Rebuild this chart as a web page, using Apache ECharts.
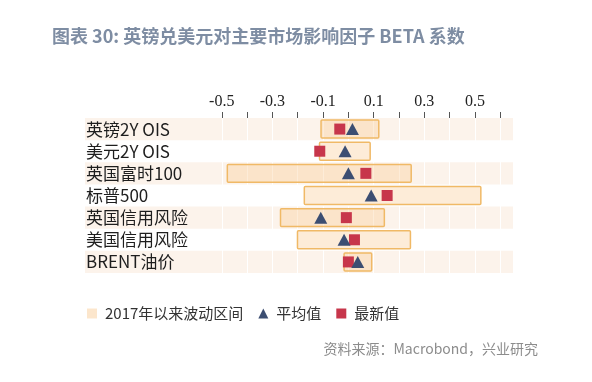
<!DOCTYPE html>
<html>
<head>
<meta charset="utf-8">
<script src="https://cdn.jsdelivr.net/npm/echarts@6/dist/echarts.min.js"></script>
<style>html,body{margin:0;padding:0;background:#fff;}#c{width:592px;height:382px;}</style>
</head>
<body>
<div id="c"></div>
<script>
var categories = ['英镑2Y OIS', '美元2Y OIS', '英国富时100', '标普500', '英国信用风险', '美国信用风险', 'BRENT油价'];
var rangeLow = [-0.108, -0.114, -0.478, -0.174, -0.268, -0.201, -0.017];
var rangeHigh = [0.12, 0.086, 0.248, 0.523, 0.142, 0.245, 0.092];
var meanVals = [0.016, -0.013, 0.0, 0.09, -0.109, -0.017, 0.037];
var latestVals = [-0.034, -0.113, 0.069, 0.153, -0.008, 0.024, 0.0];
var tickValues = [-0.5, -0.4, -0.3, -0.2, -0.1, 0, 0.1, 0.2, 0.3, 0.4, 0.5, 0.6];
var labelValues = [-0.5, -0.3, -0.1, 0.1, 0.3, 0.5];

var chart = echarts.init(document.getElementById('c'), null, {renderer: 'canvas'});

var rangeData = categories.map(function (c, i) { return [rangeLow[i], rangeHigh[i], i]; });
var meanData = categories.map(function (c, i) { return [meanVals[i], i]; });
var latestData = categories.map(function (c, i) { return [latestVals[i], i]; });

var option = {
  backgroundColor: '#ffffff',
  animation: false,
  title: {
    text: '图表 30: 英镑兑美元对主要市场影响因子 BETA 系数',
    left: 47, top: 22,
    textStyle: {fontFamily: 'Noto Sans CJK SC', fontSize: 18, fontWeight: 'bold', color: '#7E8DA3'}
  },
  graphic: [{
    type: 'text', right: 54, top: 342,
    style: {text: '资料来源：Macrobond，兴业研究', font: '14px "Noto Sans CJK SC"', fill: '#8C8C8C'}
  }],
  legend: {
    left: 82, top: 301, itemWidth: 10, itemHeight: 10, itemGap: 15,
    textStyle: {fontFamily: 'Noto Sans CJK SC', fontSize: 15, color: '#333', padding: [0, 0, 0, 3]},
    data: [
      {name: '2017年以来波动区间', icon: 'rect', itemStyle: {color: '#FCE6CC', borderWidth: 0}},
      {name: '平均值', icon: 'triangle'},
      {name: '最新值', icon: 'rect'}
    ]
  },
  grid: {left: 85, right: 79, top: 118, height: 155},
  xAxis: {
    type: 'value', position: 'top', min: -1.04, max: 0.65,
    axisLine: {show: false},
    axisTick: {show: true, customValues: tickValues, length: 6, lineStyle: {color: '#555'}},
    axisLabel: {customValues: labelValues, margin: 8, fontFamily: 'Liberation Serif', fontSize: 16, color: '#222',
      formatter: function (v) { return String(Math.round(v * 10) / 10); }},
    splitLine: {show: true, lineStyle: {color: '#ffffff', width: 1}}
  },
  yAxis: {
    type: 'category', data: categories, inverse: true,
    axisLine: {show: false}, axisTick: {show: false},
    axisLabel: {inside: true, margin: 1, fontFamily: 'Noto Sans CJK SC', fontSize: 17, color: '#1e1e1e'},
    splitArea: {show: true, areaStyle: {color: ['#FCF3EB', 'rgba(255,255,255,0)']}},
    splitLine: {show: false}
  },
  series: [
    {
      name: '2017年以来波动区间', type: 'custom', data: rangeData,
      encode: {x: [0, 1], y: 2},
      renderItem: function (params, api) {
        var p0 = api.coord([api.value(0), api.value(2)]);
        var p1 = api.coord([api.value(1), api.value(2)]);
        var h = api.size([0, 1])[1] * 0.81;
        return {
          type: 'rect',
          shape: {x: p0[0], y: p0[1] - h / 2, width: p1[0] - p0[0], height: h, r: 1},
          style: {fill: 'rgba(250,196,135,0.32)', stroke: '#F0B966', lineWidth: 1.5}
        };
      },
      itemStyle: {color: '#FCE6CC'}
    },
    {
      name: '最新值', type: 'scatter', data: latestData, symbol: 'rect', symbolSize: 11,
      itemStyle: {color: '#C7364B', opacity: 1}, z: 3
    },
    {
      name: '平均值', type: 'scatter', data: meanData, symbol: 'triangle', symbolSize: [13, 12],
      itemStyle: {color: '#3C4E72', opacity: 1}, z: 4
    }
  ]
};
chart.setOption(option);
</script>
</body>
</html>
